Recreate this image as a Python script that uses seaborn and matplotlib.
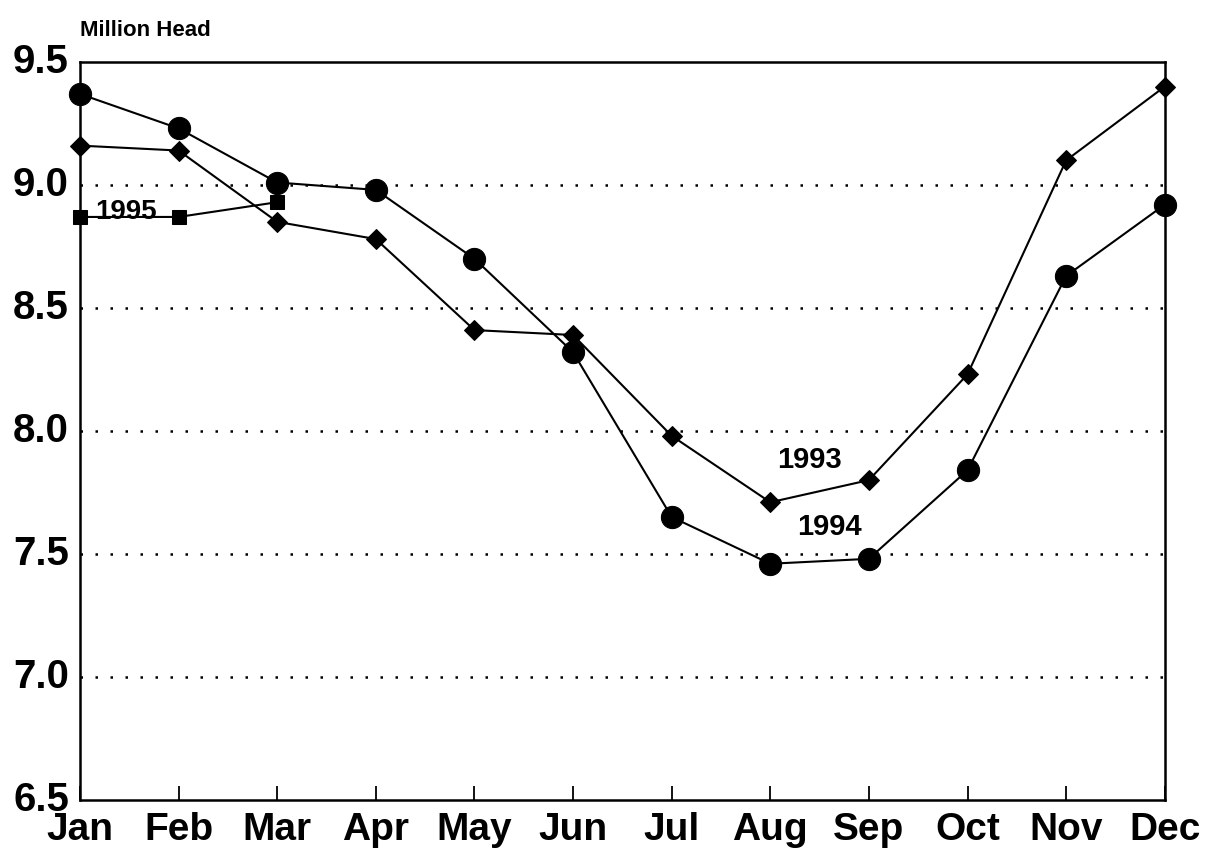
import numpy as np
import pandas as pd
import matplotlib
matplotlib.use("Agg")
import matplotlib.pyplot as plt
import seaborn as sns

sns.set_style("white")
plt.rcParams['font.family'] = ['Liberation Sans', 'DejaVu Sans']
plt.rcParams['font.weight'] = 'bold'
plt.rcParams['text.color'] = 'black'
plt.rcParams['xtick.color'] = 'black'
plt.rcParams['ytick.color'] = 'black'

months = ["Jan", "Feb", "Mar", "Apr", "May", "Jun", "Jul", "Aug", "Sep", "Oct", "Nov", "Dec"]
v1993 = [9.16, 9.14, 8.85, 8.78, 8.41, 8.39, 7.98, 7.71, 7.80, 8.23, 9.10, 9.40]
v1994 = [9.37, 9.23, 9.01, 8.98, 8.70, 8.32, 7.65, 7.46, 7.48, 7.84, 8.63, 8.92]
v1995 = [8.87, 8.87, 8.93]

df = pd.concat([
    pd.DataFrame({"m": range(12), "v": v1993, "yr": "1993"}),
    pd.DataFrame({"m": range(12), "v": v1994, "yr": "1994"}),
    pd.DataFrame({"m": range(3), "v": v1995, "yr": "1995"}),
])

fig = plt.figure(figsize=(12.12, 8.61), dpi=100)
ax = fig.add_axes([0.066, 0.071, 0.895, 0.857])

for y in [7.0, 7.5, 8.0, 8.5, 9.0]:
    ax.axhline(y, color="black", linestyle=(0, (1, 5)), linewidth=1.8, zorder=0)

sns.lineplot(data=df, x="m", y="v", hue="yr", style="yr",
             markers={"1993": "D", "1994": "o", "1995": "s"},
             dashes=False,
             palette={"1993": "black", "1994": "black", "1995": "black"},
             linewidth=1.5, legend=False, ax=ax)

# marker sizes per series
for line, ms in zip(ax.get_lines()[5:], [10, 16, 10]):
    line.set_markersize(ms)
    line.set_markeredgecolor("black")
    line.set_markerfacecolor("black")
    line.set_clip_on(False)

ax.set_xlim(0, 11)
ax.set_ylim(6.5, 9.5)
ax.set_xticks(range(12))
ax.set_xticklabels(months, fontsize=28, fontweight="heavy")
ax.set_yticks([6.5, 7.0, 7.5, 8.0, 8.5, 9.0, 9.5])
ax.set_yticklabels(["6.5", "7.0", "7.5", "8.0", "8.5", "9.0", "9.5"], fontsize=29, fontweight="heavy")
for lbl in ax.get_yticklabels():
    lbl.set_verticalalignment("center")
ax.tick_params(axis="x", direction="in", length=10, width=1.3, pad=9, bottom=True)
ax.tick_params(axis="y", length=0, pad=8)
ax.set_xlabel("")
ax.set_ylabel("")
for s in ax.spines.values():
    s.set_color("black")
    s.set_linewidth(1.8)

ax.text(0.15, 8.89, "1995", fontsize=20, fontweight="heavy", ha="left", va="center")
ax.text(7.4, 7.88, "1993", fontsize=21, fontweight="heavy", ha="center", va="center")
ax.text(7.6, 7.61, "1994", fontsize=21, fontweight="heavy", ha="center", va="center")

fig.text(0.066, 0.965, "Million Head", fontsize=16, fontweight="heavy", ha="left", va="center")

fig.savefig("out.png", dpi=100)
